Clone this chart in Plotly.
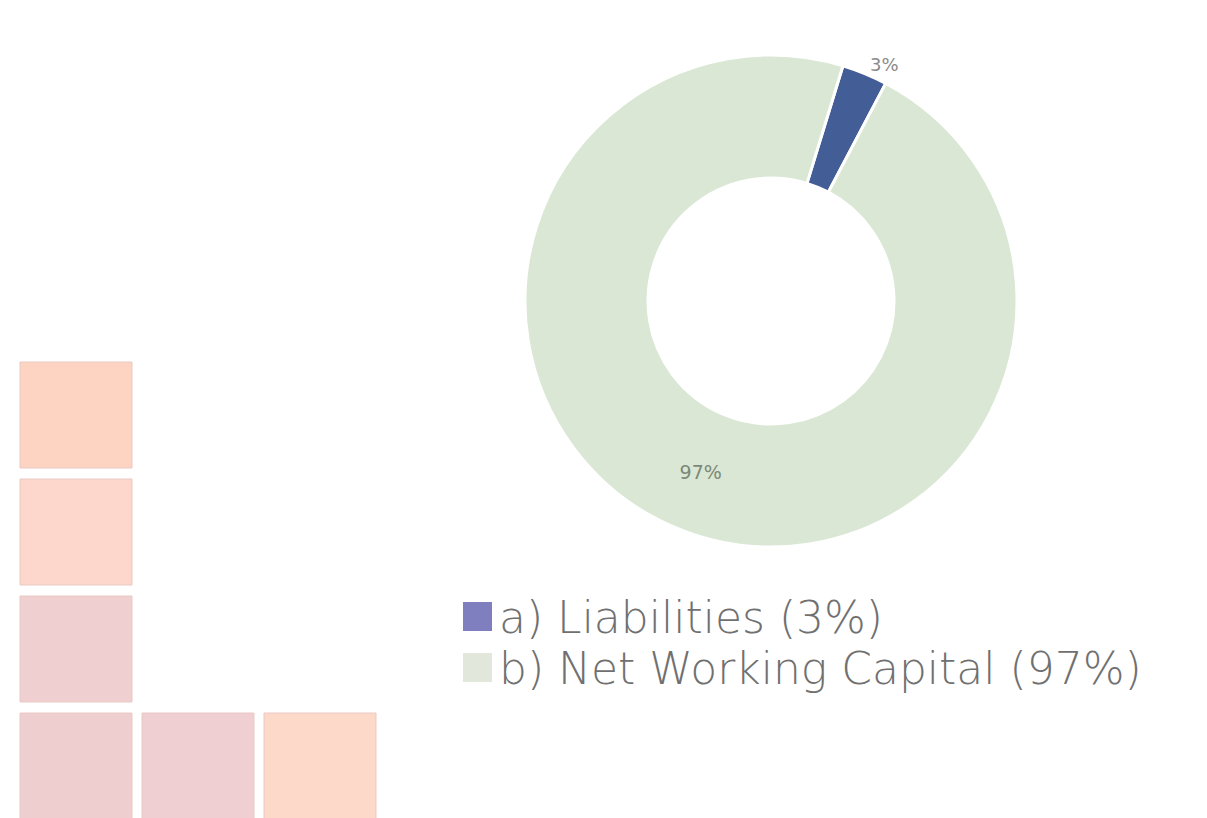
import plotly.graph_objects as go

# Balance-sheet split shown in the donut
labels = ["a) Liabilities", "b) Net Working Capital"]
values = [3, 97]
slice_colors = ["#435E96", "#D9E7D4"]
swatch_colors = ["#7F7FC0", "#E1E8DB"]
text_positions = ["outside", "inside"]

# Decorative tile block (column, row) and fill colours
tile_cells = [(0, 0), (0, 1), (0, 2), (0, 3), (1, 3), (2, 3)]
tile_colors = ["#FDD3C1", "#FDD7CB", "#EFCFD0", "#EFCECF", "#EFCFD1", "#FCD9C9"]

W, H = 1207, 818


def px_x(v):
    return v / W


def px_y(v):
    return 1 - v / H


fig = go.Figure()

fig.add_trace(go.Pie(
    labels=labels,
    values=values,
    hole=0.5,
    sort=False,
    direction="clockwise",
    rotation=17,
    marker=dict(colors=slice_colors, line=dict(color="white", width=3)),
    textinfo="percent",
    textposition=text_positions,
    insidetextorientation="horizontal",
    textfont=dict(family="DejaVu Sans", size=19, color="#7E8878"),
    outsidetextfont=dict(family="DejaVu Sans", size=18, color="#8A8A8A"),
    domain=dict(x=[px_x(771 - 246), px_x(771 + 246)],
                y=[px_y(301 + 246), px_y(301 - 246)]),
    showlegend=False,
))

shapes = []
# tile block in the lower-left corner
for (c, r), col in zip(tile_cells, tile_colors):
    x0 = 20 + c * 122
    y0 = 362 + r * 117
    shapes.append(dict(
        type="rect", xref="paper", yref="paper",
        x0=px_x(x0), x1=px_x(x0 + 112),
        y0=px_y(y0 + 106), y1=px_y(y0),
        fillcolor=col, line=dict(color="#EAC9C6", width=1), layer="below",
    ))

# key below the donut
annotations = []
total = sum(values)
for i, (lab, val) in enumerate(zip(labels, values)):
    mid = 617 + i * 51
    shapes.append(dict(
        type="rect", xref="paper", yref="paper",
        x0=px_x(463), x1=px_x(492),
        y0=px_y(mid + 14), y1=px_y(mid - 15),
        fillcolor=swatch_colors[i], line=dict(width=0),
    ))
    annotations.append(dict(
        x=px_x(497), y=px_y(mid), xref="paper", yref="paper",
        xanchor="left", yanchor="middle", showarrow=False,
        text=f"{lab} ({round(100 * val / total)}%)",
        font=dict(family="DejaVu Sans", size=44, color="#707070", weight=300),
    ))

fig.update_layout(
    width=W, height=H,
    margin=dict(l=0, r=0, t=0, b=0),
    paper_bgcolor="white",
    plot_bgcolor="white",
    shapes=shapes,
    annotations=annotations,
)

fig.write_html("out.html")
